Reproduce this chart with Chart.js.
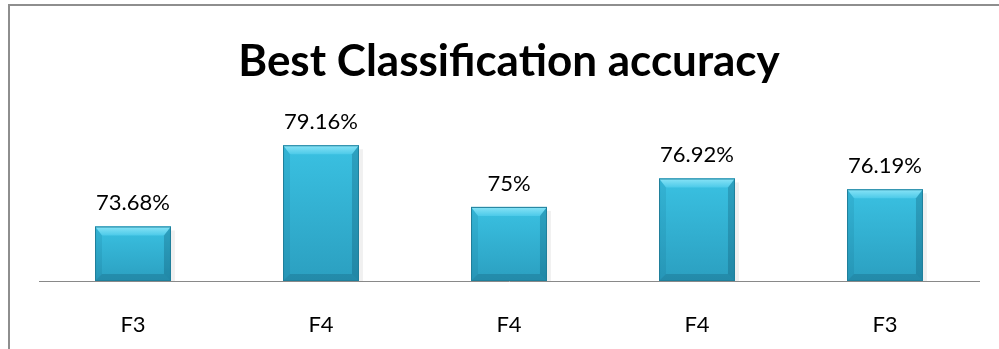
<!DOCTYPE html>
<html><head><meta charset="utf-8">
<script src="https://cdn.jsdelivr.net/npm/chart.js@4.4.1/dist/chart.umd.min.js"></script>
<style>html,body{margin:0;padding:0;background:#fff;}</style>
</head><body>
<canvas id="c" width="999" height="349" style="display:block;width:999px;height:349px"></canvas>
<script>
const categories = ['F3', 'F4', 'F4', 'F4', 'F3'];
const accuracy = [73.68, 79.16, 75, 76.92, 76.19];
const valueLabels = ['73.68%', '79.16%', '75%', '76.92%', '76.19%'];
const chartTitle = 'Best Classification accuracy';
const yMin = 70, yMax = 80;
const FONT = "Lato, 'Open Sans', sans-serif";

const framePlugin = {
  id: 'frame',
  beforeDraw(chart) {
    const ctx = chart.ctx;
    ctx.save();
    ctx.fillStyle = '#fff';
    ctx.fillRect(0, 0, chart.width, chart.height);
    ctx.strokeStyle = '#8e8e8e';
    ctx.lineWidth = 2;
    ctx.beginPath();
    ctx.moveTo(9, chart.height);
    ctx.lineTo(9, 5);
    ctx.lineTo(chart.width, 5);
    ctx.stroke();
    ctx.restore();
  }
};

const bevelPlugin = {
  id: 'bevel',
  afterDatasetsDraw(chart) {
    const ctx = chart.ctx;
    const meta = chart.getDatasetMeta(0);
    meta.data.forEach((el, i) => {
      const p = el.getProps(['x', 'y', 'base', 'width'], true);
      const l = p.x - p.width / 2, r = p.x + p.width / 2, t = p.y, b = p.base;
      const bv = 9, bs = 7;
      ctx.save();
      // soft shadow on the right
      ctx.fillStyle = 'rgba(0,0,0,0.06)';
      ctx.fillRect(r, t + 4, 4, b - t - 4);
      // body
      let g = ctx.createLinearGradient(0, t, 0, b);
      g.addColorStop(0, '#3ac1e2');
      g.addColorStop(1, '#2b9fc0');
      ctx.fillStyle = g;
      ctx.fillRect(l, t, r - l, b - t);
      // top bevel
      g = ctx.createLinearGradient(0, t, 0, t + bv);
      g.addColorStop(0, '#8ae4f7');
      g.addColorStop(1, '#4ccae9');
      ctx.fillStyle = g;
      ctx.beginPath();
      ctx.moveTo(l, t); ctx.lineTo(r, t); ctx.lineTo(r - bs, t + bv); ctx.lineTo(l + bs, t + bv); ctx.closePath();
      ctx.fill();
      // left bevel
      ctx.fillStyle = 'rgba(0,70,95,0.10)';
      ctx.beginPath();
      ctx.moveTo(l, t); ctx.lineTo(l + bs, t + bv); ctx.lineTo(l + bs, b - bs); ctx.lineTo(l, b); ctx.closePath();
      ctx.fill();
      // right bevel
      ctx.fillStyle = 'rgba(0,50,75,0.22)';
      ctx.beginPath();
      ctx.moveTo(r, t); ctx.lineTo(r - bs, t + bv); ctx.lineTo(r - bs, b - bs); ctx.lineTo(r, b); ctx.closePath();
      ctx.fill();
      // bottom bevel
      ctx.fillStyle = 'rgba(0,45,65,0.18)';
      ctx.beginPath();
      ctx.moveTo(l, b); ctx.lineTo(l + bs, b - bs); ctx.lineTo(r - bs, b - bs); ctx.lineTo(r, b); ctx.closePath();
      ctx.fill();
      // outline
      ctx.strokeStyle = '#207f9b';
      ctx.lineWidth = 1;
      ctx.strokeRect(l + 0.5, t + 0.5, r - l - 1, b - t - 1);
      // value label
      ctx.fillStyle = '#000';
      ctx.font = '22px ' + FONT;
      ctx.textAlign = 'center';
      ctx.textBaseline = 'alphabetic';
      ctx.fillText(valueLabels[i], p.x, t - 16);
      ctx.restore();
    });
  }
};

new Chart(document.getElementById('c'), {
  type: 'bar',
  data: {
    labels: categories,
    datasets: [{
      data: accuracy,
      base: yMin,
      backgroundColor: '#33b3d5',
      borderWidth: 0,
      barPercentage: 1,
      categoryPercentage: 0.404
    }]
  },
  options: {
    responsive: false,
    devicePixelRatio: 1,
    animation: false,
    layout: { padding: { left: 39, right: 20, top: 0, bottom: 0 } },
    plugins: {
      legend: { display: false },
      tooltip: { enabled: false },
      title: {
        display: true,
        text: chartTitle,
        color: '#000',
        font: { family: FONT, size: 44, weight: 'bold', lineHeight: 1.2 },
        padding: { top: 35, bottom: 45 }
      }
    },
    scales: {
      x: {
        grid: { display: false, drawTicks: false },
        border: { display: true, color: '#898989', width: 1 },
        ticks: { color: '#000', font: { family: FONT, size: 22 }, padding: 31 },
        afterFit(scale) { scale.height = 68; }
      },
      y: { display: false, min: yMin, max: yMax }
    }
  },
  plugins: [framePlugin, bevelPlugin]
});
</script>
</body></html>
